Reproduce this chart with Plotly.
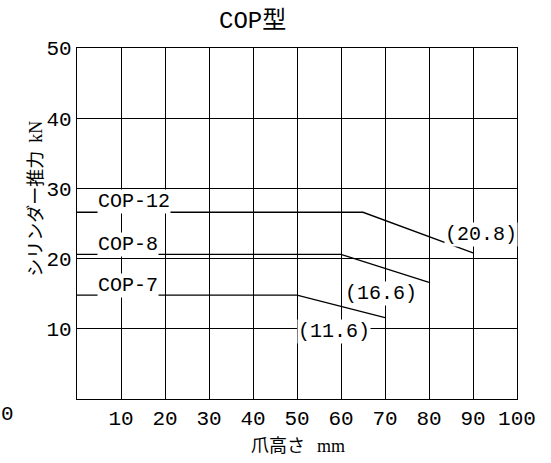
import plotly.graph_objects as go

# Data
series_names = ["COP-12", "COP-8", "COP-7"]
cop12_x = [0, 65, 90]
cop12_y = [26.6, 26.6, 20.8]
cop8_x = [0, 60, 80]
cop8_y = [20.6, 20.6, 16.6]
cop7_x = [0, 50, 70]
cop7_y = [14.8, 14.8, 11.6]
end_labels = ["(20.8)", "(16.6)", "(11.6)"]
end_label_x = [91.9, 69.2, 58.3]
end_label_y = [23.4, 15.1, 9.6]
name_label_x = [4.5, 4.5, 4.5]
name_label_y = [28.1, 22.0, 16.1]
x_ticks = [10, 20, 30, 40, 50, 60, 70, 80, 90, 100]
y_ticks = [10, 20, 30, 40, 50]

FONT = "Liberation Mono, DejaVu Sans Mono, Noto Sans CJK JP, monospace"
CJK = "Noto Sans CJK JP, Liberation Mono"

fig = go.Figure()
for xs, ys in [(cop12_x, cop12_y), (cop8_x, cop8_y), (cop7_x, cop7_y)]:
    fig.add_trace(go.Scatter(x=xs, y=ys, mode="lines",
                             line=dict(color="black", width=1.3),
                             showlegend=False, hoverinfo="skip"))

annotations = []
for name, x, y in zip(series_names, name_label_x, name_label_y):
    annotations.append(dict(x=x, y=y, xref="x", yref="y", text=name,
                            showarrow=False, xanchor="left", yanchor="middle",
                            font=dict(family=FONT, size=20, color="black"),
                            bgcolor="white", borderpad=0))
for t, x, y in zip(end_labels, end_label_x, end_label_y):
    annotations.append(dict(x=x, y=y, xref="x", yref="y", text=t,
                            showarrow=False, xanchor="center", yanchor="middle",
                            font=dict(family=FONT, size=20, color="black"),
                            bgcolor="white", borderpad=0))
# title
annotations.append(dict(x=0.399, y=1.077, xref="paper", yref="paper", text="COP型",
                        showarrow=False, xanchor="center", yanchor="middle",
                        font=dict(family=FONT, size=24, color="black")))
# axis titles
annotations.append(dict(x=-0.098, y=0.57, xref="paper", yref="paper",
                        text="シリンダー推力  <span style='font-family:Liberation Serif'>kN</span>",
                        textangle=-90,
                        showarrow=False, xanchor="center", yanchor="middle",
                        font=dict(family=CJK, size=18, color="black")))
annotations.append(dict(x=0.503, y=-0.128, xref="paper", yref="paper",
                        text="爪高さ   <span style='font-family:Liberation Serif'>mm</span>",
                        showarrow=False, xanchor="center", yanchor="middle",
                        font=dict(family=CJK, size=18, color="black")))
# stray zero label
annotations.append(dict(x=-0.157, y=-0.045, xref="paper", yref="paper", text="0",
                        showarrow=False, xanchor="center", yanchor="middle",
                        font=dict(family=FONT, size=21, color="black")))

fig.update_layout(
    width=551, height=463,
    margin=dict(l=77, r=34, t=48, b=64),
    paper_bgcolor="white", plot_bgcolor="white",
    annotations=annotations,
    xaxis=dict(range=[0, 100], tickvals=x_ticks, ticktext=[str(v) for v in x_ticks],
               showgrid=True, gridcolor="black", gridwidth=1,
               showline=True, linecolor="black", linewidth=1.3, mirror=True,
               zeroline=False, ticks="", ticklen=0,
               tickfont=dict(family=FONT, size=21, color="black")),
    yaxis=dict(range=[0, 50], tickvals=y_ticks, ticktext=[str(v) for v in y_ticks],
               showgrid=True, gridcolor="black", gridwidth=1,
               showline=True, linecolor="black", linewidth=1.3, mirror=True,
               zeroline=False, ticks="", ticklen=0,
               tickfont=dict(family=FONT, size=21, color="black")),
)

fig.write_html("out.html")
